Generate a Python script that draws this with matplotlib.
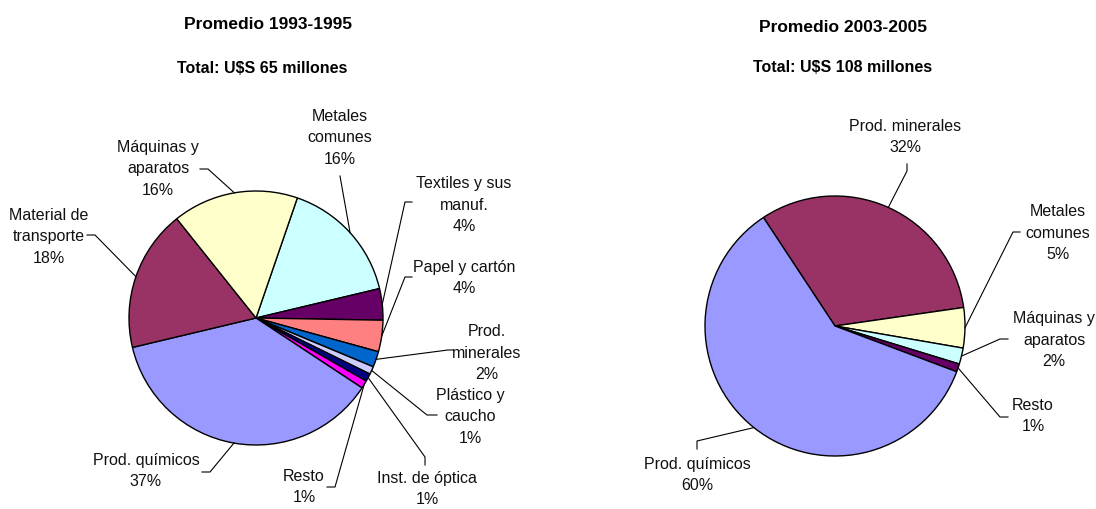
import numpy as np
import matplotlib
matplotlib.use("Agg")
import matplotlib.pyplot as plt

plt.rcParams['font.family'] = ['Liberation Sans', 'DejaVu Sans']

W, H = 1096, 510

# ---- data ----
labels_93 = ["Metales\ncomunes", "Textiles y sus\nmanuf.", "Papel y cartón",
             "Prod.\nminerales", "Plástico y\ncaucho", "Inst. de óptica",
             "Resto", "Prod. químicos", "Material de\ntransporte",
             "Máquinas y\naparatos"]
shares_93 = [16, 4, 4, 2, 1, 1, 1, 37, 18, 16]
colors_93 = ["#CCFFFF", "#660066", "#FF8080", "#0066CC", "#CCCCFF",
             "#000080", "#FF00FF", "#9999FF", "#993366", "#FFFFCC"]

labels_03 = ["Prod. minerales", "Metales\ncomunes", "Máquinas y\naparatos",
             "Resto", "Prod. químicos"]
shares_03 = [32, 5, 2, 1, 60]
colors_03 = ["#993366", "#FFFFCC", "#CCFFFF", "#660066", "#9999FF"]

# label placement (pixel coords from top-left) and leader line points
pos_93 = [(340, 138), (464, 205), (464, 278), (487, 353), (470, 417),
          (427, 489), (304, 487), (146, 471), (49, 237), (158, 169)]
lead_93 = [[(340, 177)], [(405, 203), (412, 203)], [(405, 278), (412, 278)],
           [(448, 351), (453, 351)], [(427, 416), (437, 416)],
           [(425, 458), (425, 466)], [(335, 488), (327, 488)],
           [(210, 473), (202, 473)], [(95, 236), (87, 236)],
           [(208, 170), (200, 170)]]

pos_03 = [(905, 137), (1058, 233), (1054, 340), (1033, 416), (697, 475)]
lead_03 = [[(907, 172), (907, 165)], [(1013, 233), (1020, 233)],
           [(1000, 340), (1008, 340)], [(1000, 418), (1008, 418)],
           [(697, 442), (697, 450)]]


def draw_pie(ax, shares, colors, labels, pos, lead, cx, cy, r, start):
    wedges, _ = ax.pie(shares, colors=colors, startangle=start,
                       counterclock=False, center=(cx, H - cy), radius=r,
                       wedgeprops=dict(edgecolor="black", linewidth=1))
    for w, lab, share, (tx, ty), pts in zip(wedges, labels, shares, pos, lead):
        mid = np.deg2rad((w.theta1 + w.theta2) / 2)
        x0 = cx + r * np.cos(mid)
        y0 = (H - cy) + r * np.sin(mid)
        xs = [x0] + [p[0] for p in pts]
        ys = [y0] + [H - p[1] for p in pts]
        ax.plot(xs, ys, color="black", lw=0.8)
        ax.text(tx, H - ty, f"{lab}\n{share}%", ha="center", va="center",
                fontsize=11.5, linespacing=1.55, color="#111111")


fig = plt.figure(figsize=(W / 100, H / 100), dpi=100)
ax = fig.add_axes([0, 0, 1, 1])

draw_pie(ax, shares_93, colors_93, labels_93, pos_93, lead_93, 256, 319, 127, 71)
draw_pie(ax, shares_03, colors_03, labels_03, pos_03, lead_03, 835, 327, 130, 123.4)

ax.text(268, H - 29, "Promedio 1993-1995", ha="center", va="baseline",
        fontsize=12.5, fontweight="bold")
ax.text(262, H - 73, "Total: U$S 65 millones", ha="center", va="baseline",
        fontsize=11.5, fontweight="bold")
ax.text(843, H - 32, "Promedio 2003-2005", ha="center", va="baseline",
        fontsize=12.5, fontweight="bold")
ax.text(843, H - 72, "Total: U$S 108 millones", ha="center", va="baseline",
        fontsize=11.5, fontweight="bold")

ax.set_xlim(0, W)
ax.set_ylim(0, H)
ax.set_aspect("equal")
ax.axis("off")

fig.savefig("out.png", dpi=100, facecolor="white")
